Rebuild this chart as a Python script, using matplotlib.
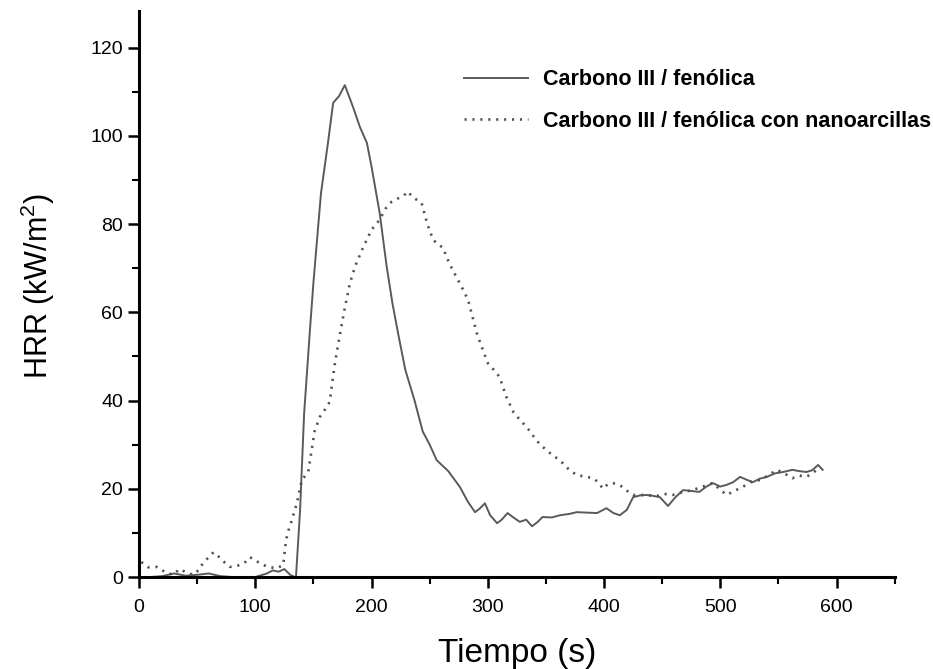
import matplotlib
matplotlib.use("Agg")
import matplotlib.pyplot as plt
from matplotlib.ticker import MultipleLocator

plt.rcParams['font.family'] = ['Liberation Sans', 'DejaVu Sans']
plt.rcParams['mathtext.fontset'] = 'custom'
plt.rcParams['mathtext.rm'] = 'Liberation Sans'
plt.rcParams['mathtext.it'] = 'Liberation Sans'

# Carbono III / fenolica (solid)
t_solid = [0, 10, 20, 30, 40, 50, 60, 70, 80, 90, 100, 110, 115, 120, 125, 130, 134, 135,
           138.5, 142, 147, 150, 156.5, 162.5, 167, 172, 177, 184, 190, 196, 200, 207, 213,
           218, 223, 229, 237, 244, 250, 256, 266, 276, 283, 289, 293, 297.5, 302, 308, 312,
           317, 322, 327.5, 333, 338, 343, 347, 355, 362, 370, 376.5, 385, 394, 402, 408,
           413.5, 419.5, 425, 431, 436.5, 442, 448, 455, 461, 468, 475, 482, 488, 493.5, 500,
           505.5, 511, 517, 523, 528, 534, 540, 547, 554, 562, 568, 574, 579, 584, 588]
hrr_solid = [0, 0, 0.2, 0.8, 0.3, 0.5, 0.8, 0.2, 0, 0, 0, 0.8, 1.5, 1.2, 1.8, 0.5, 0, 0,
             15, 37, 56, 66.7, 87, 98.4, 107.5, 109, 111.5, 106.6, 102, 98.4, 93, 82.5, 70.4,
             62, 55, 47, 40, 33, 30, 26.5, 24, 20.4, 17, 14.7, 15.5, 16.7, 14, 12.2, 13,
             14.5, 13.5, 12.5, 13, 11.5, 12.5, 13.6, 13.5, 14, 14.3, 14.7, 14.6, 14.5, 15.6, 14.5,
             14, 15.2, 18.1, 18.5, 18.6, 18.4, 18.1, 16.1, 18, 19.7, 19.5, 19.3, 20.5, 21.3, 20.5,
             20.9, 21.5, 22.7, 22, 21.5, 22.3, 22.7, 23.5, 23.8, 24.3, 24, 23.8, 24.2, 25.4, 24.3]

# Carbono III / fenolica con nanoarcillas (dotted)
t_nano = [2, 8, 15, 22, 29, 35, 41, 46.5, 51, 55, 60, 64, 70, 74, 78, 83, 87, 92, 95.5, 101,
          107, 113, 118.5, 124, 126.5, 129, 131.5, 136, 140, 145.5, 151, 155.5, 160, 164, 168.5,
          173, 177, 181.5, 186, 191.5, 196, 200, 207, 212, 217, 224, 228, 231, 236, 243, 248,
          253, 257, 261.5, 267, 273, 278, 283, 290.5, 295, 300, 305, 310, 316, 322, 328, 333.5,
          339, 345, 353.5, 359, 364.5, 370, 376.5, 383, 390.5, 395, 399, 403, 407.5, 412, 416,
          420, 425, 432, 440, 448, 453, 459, 467, 476, 485, 493.5, 499, 505.5, 512, 519, 526,
          534, 541, 548.5, 555, 562, 568, 574, 579, 583, 587]
hrr_nano = [3.4, 2.2, 2.3, 1.2, 0.5, 1.8, 1, 0.5, 1.5, 3.1, 4.5, 5.6, 4.3, 3.2, 2.3, 2.5, 2.7,
            3.5, 4.5, 3.6, 2.7, 2.2, 2.0, 2.7, 8.4, 11, 12.9, 17, 22, 23.8, 33, 36.3, 38, 39.7,
            48.5, 55.3, 61, 66.7, 70.5, 74, 76.5, 78.7, 81, 83.5, 85, 86, 86.5, 87.4, 86, 84.8,
            80, 76.4, 75.5, 74.6, 71, 68, 65.5, 62.8, 55.3, 52, 48.5, 47, 45.4, 40.8, 37.4, 35.5,
            34, 32, 30, 28.1, 27, 25.8, 24.3, 23.1, 22.8, 22.4, 21.5, 20, 21, 21.3, 21, 20.4,
            19.5, 18.6, 18.6, 18.5, 18.4, 18.8, 18.6, 19.2, 19.7, 20.5, 21.3, 20, 18.6, 19.5,
            20.4, 21.5, 22, 23, 24.3, 23.5, 22.4, 23, 22.7, 23.5, 24.3, 24.7]

labels = ['Carbono III / fenólica', 'Carbono III / fenólica con nanoarcillas']

fig = plt.figure(figsize=(9.33, 6.69), dpi=100)
ax = fig.add_axes([0.149, 0.1375, 0.81, 0.846])

ax.plot(t_solid, hrr_solid, color='#5a5a5a', lw=1.4, label=labels[0])
ax.plot(t_nano, hrr_nano, color='#505050', lw=1.9, linestyle=(0, (0.8, 2.2)),
        label=labels[1])

ax.set_xlim(0, 650)
ax.set_ylim(0, 128.3)
ax.xaxis.set_major_locator(MultipleLocator(100))
ax.xaxis.set_minor_locator(MultipleLocator(50))
ax.yaxis.set_major_locator(MultipleLocator(20))
ax.yaxis.set_minor_locator(MultipleLocator(10))
ax.set_yticks([0, 20, 40, 60, 80, 100, 120])

for s in ['top', 'right']:
    ax.spines[s].set_visible(False)
for s in ['left', 'bottom']:
    ax.spines[s].set_linewidth(2.2)

ax.tick_params(which='major', direction='out', length=8, width=1.8, labelsize=14)
ax.tick_params(axis='x', which='major', pad=8)
ax.tick_params(which='minor', direction='out', length=5, width=1.5)

ax.set_xlabel('Tiempo (s)', fontsize=24, labelpad=16)
ax.set_ylabel('HRR (kW/m$^{2}$)', fontsize=22)
ax.yaxis.set_label_coords(-0.108, 0.515)

leg = ax.legend(loc='upper left', bbox_to_anchor=(0.418, 0.912), frameon=False,
                handlelength=3.0, handletextpad=0.7, labelspacing=0.95,
                prop={'weight': 'bold', 'size': 15.5}, borderaxespad=0)

fig.savefig('out.png', dpi=100)
